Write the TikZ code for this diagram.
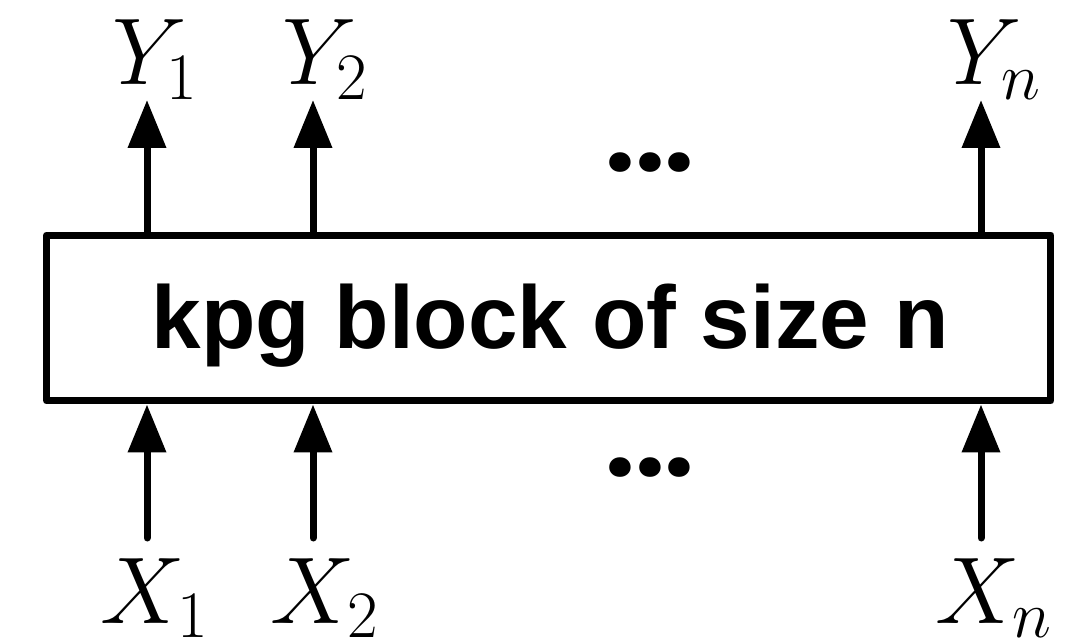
\RequirePackage{fix-cm}
\documentclass[tikz,border=0pt]{standalone}
\usepackage{fontspec}
\newfontfamily\hv{Liberation Sans}
\newfontfamily\pop{Poppins}
\usetikzlibrary{arrows.meta}
\begin{document}
\begin{tikzpicture}[x=0.02cm,y=-0.02cm,
  blk/.style={draw,line width=0.14cm,line join=round,minimum width=20.09cm,minimum height=3.32cm,inner sep=0pt},
  arr/.style={line width=0.14cm,line cap=round,-{Triangle[length=0.96cm,width=0.74cm]}},
  lab/.style={anchor=base,inner sep=0pt,font=\fontsize{54}{60}\selectfont},
  dots/.style={anchor=base,inner sep=0pt,font=\pop\bfseries\fontsize{60}{70}\selectfont},
  ttl/.style={anchor=base,inner sep=0pt,font=\hv\bfseries\fontsize{50.7}{60}\selectfont}]
\useasboundingbox (0,0) rectangle (1076,642);
\node[blk] (box) at (548.75,318) {};
\node[ttl] (title) at (550,348) {kpg block of size n};
% output tips
\coordinate (t1) at (147,100);
\coordinate (t2) at (313,100);
\coordinate (tn) at (981,100);
% input starts
\coordinate (s1) at (147,538);
\coordinate (s2) at (313,538);
\coordinate (sn) at (981,538);
\draw[arr] (box.north -| t1) -- (t1);
\draw[arr] (box.north -| t2) -- (t2);
\draw[arr] (box.north -| tn) -- (tn);
\draw[arr] (s1) -- (s1 |- box.south);
\draw[arr] (s2) -- (s2 |- box.south);
\draw[arr] (sn) -- (sn |- box.south);
\node[lab] (y1) at (155,85) {$Y_1$};
\node[lab] (y2) at (325,85) {$Y_2$};
\node[lab] (yn) at (994,85) {$Y_n$};
\node[lab] (x1) at (155,623) {$X_1$};
\node[lab] (x2) at (325,623) {$X_2$};
\node[lab] (xn) at (994,623) {$X_n$};
\node[dots] (dtop) at (650,171.5) {...};
\node[dots] (dbot) at (650,476.5) {...};
\end{tikzpicture}
\end{document}
